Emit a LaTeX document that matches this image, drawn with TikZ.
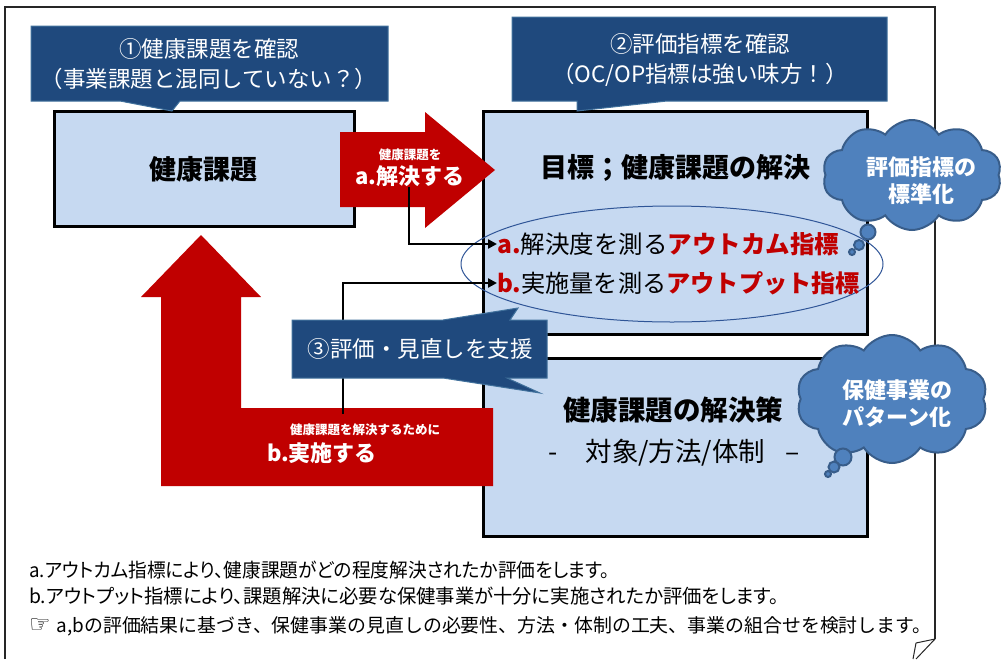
\documentclass[tikz,border=0pt]{standalone}
\usepackage{fontspec}
\setmainfont{Noto Sans CJK JP}
\newfontfamily\palt[RawFeature=+palt]{Noto Sans CJK JP}
\newfontfamily\dejavu{DejaVu Sans}
\usetikzlibrary{shapes.symbols,shapes.geometric,arrows.meta}
\definecolor{navy}{HTML}{1F497D}
\definecolor{navyb}{HTML}{41719C}
\definecolor{lblue}{HTML}{C6D9F1}
\definecolor{dred}{HTML}{C00000}
\definecolor{cblue}{HTML}{4F81BD}
\definecolor{cblueb}{HTML}{385D8A}
\definecolor{ellc}{HTML}{2F5597}
\newcommand{\fsz}[1]{\fontsize{#1}{#1}\selectfont}
\begin{document}
\begin{tikzpicture}[x=1pt,y=-1pt,
  boxst/.style={draw=black, line width=2.5pt, fill=lblue, inner sep=0pt, anchor=north west},
  callst/.style={fill=navy, draw=navyb, line width=1pt},
  calltext/.style={text=white, align=center, font=\fsz{22.5}, inner sep=0pt},
  redst/.style={fill=dred, draw=none},
  whitetext/.style={text=white, inner sep=0pt, font=\bfseries\fsz{22}},
  smallwhite/.style={text=white, inner sep=0pt, font=\bfseries\fsz{12.5}},
  cloudst/.style={cloud, cloud puffs=10, cloud puff arc=115, cloud ignores aspect, fill=cblue, draw=cblueb, line width=2pt, inner sep=0pt},
  cloudtext/.style={text=white, font=\bfseries\fsz{22}, align=center, inner sep=0pt},
  bubst/.style={circle, fill=cblue, draw=cblueb, line width=2pt, inner sep=0pt},
  conn/.style={line width=2.5pt, -{Triangle[length=9pt,width=9pt]}},
  bodytext/.style={anchor=west, inner sep=0pt}
]
\useasboundingbox (0,0) rectangle (1003,659);
% outer frame
\draw[line width=1.2pt, black!85] (5,659) -- (5,7) -- (935,7) -- (935,639);
\draw[line width=1pt, black!85] (935,639) -- (916,643) -- (913,659);
\draw[line width=1pt, black!85] (935,639) -- (916,659);

% boxes
\node[boxst, minimum width=300pt, minimum height=115pt] (kadai) at (53,110) {};
\node[font=\bfseries\fsz{27}, inner sep=0pt] (kadaitxt) at (203,169) {健康課題};
\node[boxst, minimum width=384pt, minimum height=223pt] (goal) at (482,110) {};
\node[boxst, minimum width=384pt, minimum height=178pt] (sol) at (482,357) {};
\node[font=\bfseries\fsz{27}, inner sep=0pt] (goaltxt) at (675,168) {目標；健康課題の解決};
\node[font=\bfseries\fsz{27.5}, inner sep=0pt] (soltxt) at (673,410) {健康課題の解決策};
\node[font=\fsz{26.5}, inner sep=0pt] (solsub) at (674,453) {-\hspace{28pt}対象/方法/体制\hspace{20pt}–};

% ellipse
\node[ellipse, draw=ellc, line width=1pt, minimum width=422pt, minimum height=116pt] (ell) at (672,264) {};

% arrow a
\draw[redst] (340,132) -- (425,132) -- (425,112) -- (495,170) -- (425,228) -- (425,207) -- (340,207) -- cycle;
\node[smallwhite] (atop) at (410,155) {健康課題を};
\node[whitetext] (abig) at (410,176) {a.解決する};

% big L arrow b
\draw[redst] (161,486) -- (493,486) -- (493,408) -- (241,408) -- (241,297) -- (261,297) -- (201,235) -- (141,297) -- (161,297) -- cycle;
\node[smallwhite] (btop) at (365,430) {健康課題を解決するために};
\node[whitetext] (bbig) at (322,453) {b.実施する};

% indicator lines
\node[anchor=west, inner sep=0pt, font=\fsz{24.5}] (la) at (497,244) {{\color{dred}\bfseries a.}解決度を測る{\color{dred}\bfseries アウトカム指標}};
\node[anchor=west, inner sep=0pt, font=\fsz{24.2}] (lb) at (497,283) {{\color{dred}\bfseries b.}実施量を測る{\color{dred}\bfseries アウトプット指標}};
\coordinate (astart) at (409,187);
\coordinate (bstart) at (343,414);
\draw[conn] (astart) |- (la.west);
\draw[conn] (bstart) |- (lb.west);

% callouts
\draw[callst] (31,26) -- (388,26) -- (388,101) -- (180,101) -- (172,111) -- (120,101) -- (31,101) -- cycle;
\node[calltext] (c1) at (209,64) {①健康課題を確認\\[7pt]（事業課題と混同していない？）};
\draw[callst] (512,17) -- (887,17) -- (887,101) -- (667,101) -- (577,111) -- (577,101) -- (512,101) -- cycle;
\node[calltext] (c2) at (700,60) {②評価指標を確認\\[7pt]（OC/OP指標は強い味方！）};
\draw[callst] (292,320) -- (443,320) -- (518,308) -- (510,320) -- (547,320) -- (547,378) -- (507,378) -- (540,393) -- (443,378) -- (292,378) -- cycle;
\node[calltext] (c3) at (420,349) {③評価・見直しを支援};

% clouds
\node[cloudst, minimum width=179pt, minimum height=110pt] (cl1) at (912,175) {};
\node[cloudtext] (cl1t) at (921,181) {評価指標の\\[5pt]標準化};
\node[bubst, minimum size=15pt] (b11) at (868,232) {};
\node[bubst, minimum size=10pt] (b12) at (859,245) {};
\node[bubst, minimum size=6pt] (b13) at (852,252) {};
\node[cloudst, minimum width=191pt, minimum height=128pt] (cl2) at (892,399) {};
\node[cloudtext] (cl2t) at (897,404) {保健事業の\\[5pt]パターン化};
\node[bubst, minimum size=17pt] (b21) at (843,457) {};
\node[bubst, minimum size=11pt] (b22) at (834,467) {};
\node[bubst, minimum size=6pt] (b23) at (828,474) {};

% bottom text
\node[bodytext] (t1) at (29,570) {\scalebox{0.958}[1]{\palt\fsz{19.5}a.アウトカム指標により、健康課題がどの程度解決されたか評価をします。}};
\node[bodytext] (t2) at (29,596) {\scalebox{0.992}[1]{\palt\fsz{19.5}b.アウトプット指標により、課題解決に必要な保健事業が十分に実施されたか評価をします。}};
\node[bodytext] (t3) at (29,626) {{\dejavu\fsz{24}☞}\hspace{6pt}{\fsz{18.9}a,bの評価結果に基づき、保健事業の見直しの必要性、方法・体制の工夫、事業の組合せを検討します。}};
\end{tikzpicture}
\end{document}
